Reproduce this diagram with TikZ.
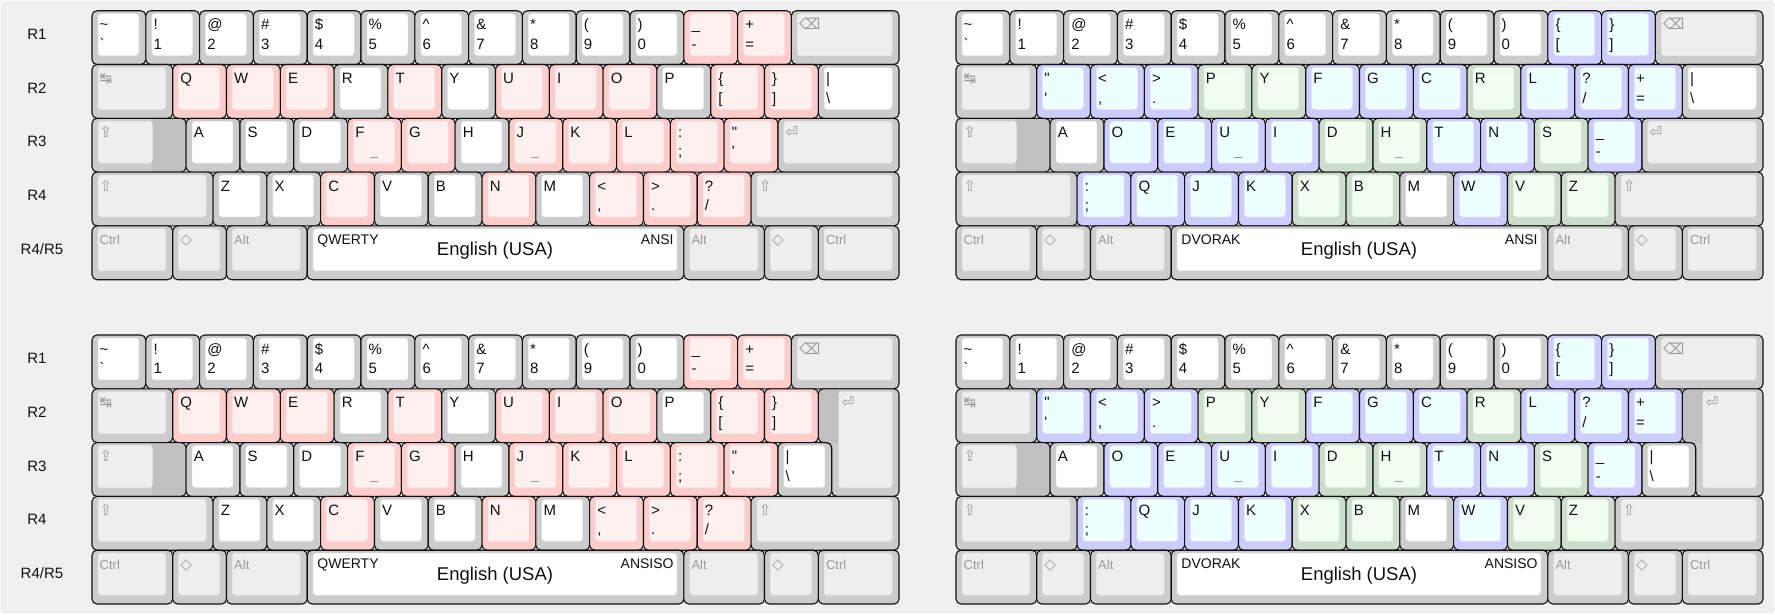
\documentclass[tikz,border=0pt]{standalone}
\usepackage{fontspec}
\newfontfamily\keyfont{Liberation Sans}
\newfontfamily\symfont{DejaVu Sans}

\definecolor{bgcol}{HTML}{F0F0F0}
\definecolor{panelline}{HTML}{DDDDDD}
\definecolor{keyline}{HTML}{111111}
\definecolor{legendtext}{HTML}{111111}
\definecolor{modtext}{HTML}{9A9A9A}
\definecolor{plainrim}{HTML}{CCCCCC}
\definecolor{plainface}{HTML}{FFFFFF}
\definecolor{modrim}{HTML}{CCCCCC}
\definecolor{modface}{HTML}{EEEEEE}
\definecolor{steprim}{HTML}{C0C0C0}
\definecolor{pinkrim}{HTML}{FFCCCC}
\definecolor{pinkface}{HTML}{FFF0F0}
\definecolor{bluerim}{HTML}{CCCCFF}
\definecolor{blueface}{HTML}{EEFFFF}
\definecolor{greenrim}{HTML}{CCDDCC}
\definecolor{greenface}{HTML}{F0FFF0}

\tikzset{
  keyrim/.style={draw=keyline, line width=1.1, rounded corners=5},
  keyface/.style={draw=black!8, line width=0.5, rounded corners=3},
  legend/.style={anchor=base west, inner sep=0, text=legendtext,
    font=\keyfont\fontsize{15}{15}\selectfont},
  rowlabel/.style={anchor=base, inner sep=0, text=legendtext,
    font=\keyfont\fontsize{15}{15}\selectfont},
  spacesmall/.style={inner sep=0, text=legendtext,
    font=\keyfont\fontsize{14}{14}\selectfont},
  spacebig/.style={inner sep=0, text=legendtext,
    font=\keyfont\fontsize{18.5}{18.5}\selectfont},
  bump/.style={draw=modtext, line width=0.8},
}

% modifier legends
\newcommand{\ml}[1]{{\color{modtext}\fontsize{13}{13}\selectfont #1}}
\newcommand{\ms}[1]{{\color{modtext}\symfont\fontsize{15}{15}\selectfont #1}}

% keyboard origin, unit and running position
\def\ku{53.8}
\newcommand{\setkb}[2]{\def\kbx{#1}\def\kby{#2}}
\newcommand{\key}[4]{%
  \pgfmathsetmacro\kxa{\kbx+\curx*\ku}%
  \pgfmathsetmacro\kxb{\kxa+#1*\ku}%
  \pgfmathsetmacro\kya{\kby+\currow*\ku}%
  \filldraw[keyrim, fill=#2rim] (\kxa,\kya) rectangle (\kxb,\kya+\ku);
  \filldraw[keyface, fill=#2face] (\kxa+6,\kya+3) rectangle (\kxb-7,\kya+\ku-9);
  \node[legend] at (\kxa+7.5,\kya+19) {#3};
  \node[legend] at (\kxa+7.5,\kya+38.5) {#4};
  \pgfmathsetmacro\kxn{\curx+#1}%
  \xdef\curx{\kxn}%
}
\newcommand{\keyrow}[3]{%
  \xdef\currow{#1}\xdef\curx{#2}%
  \foreach \kw/\kcol/\ktop/\kbot in #3 {\key{\kw}{\kcol}{\ktop}{\kbot}}%
}
\newcommand{\capskey}{%
  \pgfmathsetmacro\kya{\kby+2*\ku}%
  \begin{scope}
    \clip[rounded corners=5] (\kbx,\kya) rectangle (\kbx+1.75*\ku,\kya+\ku);
    \fill[modrim] (\kbx,\kya) rectangle (\kbx+1.75*\ku,\kya+\ku);
    \fill[steprim] (\kbx+1.25*\ku-7,\kya) rectangle (\kbx+1.75*\ku,\kya+\ku);
  \end{scope}
  \draw[keyrim] (\kbx,\kya) rectangle (\kbx+1.75*\ku,\kya+\ku);
  \filldraw[keyface, fill=modface] (\kbx+6,\kya+3) rectangle (\kbx+1.25*\ku-7,\kya+\ku-9);
  \node[legend] at (\kbx+7.5,\kya+19) {\ms{⇪}};
}
\newcommand{\isoenter}{%
  \pgfmathsetmacro\exa{\kbx+13.5*\ku}%
  \pgfmathsetmacro\exb{\kbx+13.75*\ku}%
  \pgfmathsetmacro\exr{\kbx+15*\ku}%
  \pgfmathsetmacro\eya{\kby+\ku}%
  \begin{scope}
    \clip[rounded corners=5] (\exa,\eya) -- (\exr,\eya) -- (\exr,\eya+2*\ku)
      -- (\exb,\eya+2*\ku) -- (\exb,\eya+\ku) -- (\exa,\eya+\ku) -- cycle;
    \fill[modrim] (\exa,\eya) rectangle (\exr,\eya+2*\ku);
    \fill[steprim] (\exa,\eya) rectangle (\exb+7,\eya+\ku);
  \end{scope}
  \draw[keyrim] (\exa,\eya) -- (\exr,\eya) -- (\exr,\eya+2*\ku)
    -- (\exb,\eya+2*\ku) -- (\exb,\eya+\ku) -- (\exa,\eya+\ku) -- cycle;
  \filldraw[keyface, fill=modface] (\exb+7,\eya+3) rectangle (\exr-7,\eya+2*\ku-9);
  \node[legend] at (\exb+10,\eya+19) {\ms{⏎}};
}
\newcommand{\spacetext}[2]{%
  \pgfmathsetmacro\sxa{\kbx+4*\ku}%
  \pgfmathsetmacro\sya{\kby+4*\ku}%
  \node[spacesmall, anchor=base west] (layout) at (\sxa+10,\sya+18.3) {#1};
  \node[spacesmall, anchor=base east] (standard) at (\sxa+7*\ku-10,\sya+18.3) {#2};
  \node[spacebig, anchor=base] (language) at (\sxa+3.5*\ku-0.5,\sya+30) {English (USA)};
}
\newcommand{\bumps}{%
  \draw[bump] (\kbx+5.25*\ku-4.5,\kby+2*\ku+39) -- ++(8,0);
  \draw[bump] (\kbx+8.25*\ku-4.5,\kby+2*\ku+39) -- ++(8,0);
}
\newcommand{\rowlabels}{%
  \foreach \r/\lab in {0/R1,1/R2,2/R3,3/R4}
    \node[rowlabel] at (37,\kby+\r*\ku+28.5) {\lab};
  \node[rowlabel] at (42,\kby+4*\ku+28.5) {R4/R5};
}

% rows
\def\QRone{1/plain/\textasciitilde/\textasciigrave, 1/plain/!/1, 1/plain/@/2,
  1/plain/\#/3, 1/plain/\$/4, 1/plain/\%/5, 1/plain/\textasciicircum/6,
  1/plain/\&/7, 1/plain/*/8, 1/plain/{(}/9, 1/plain/{)}/0, 1/pink/\_/-,
  1/pink/+/=, 2/mod/\ms{⌫}/{}}
\def\DRone{1/plain/\textasciitilde/\textasciigrave, 1/plain/!/1, 1/plain/@/2,
  1/plain/\#/3, 1/plain/\$/4, 1/plain/\%/5, 1/plain/\textasciicircum/6,
  1/plain/\&/7, 1/plain/*/8, 1/plain/{(}/9, 1/plain/{)}/0, 1/blue/\{/{[},
  1/blue/\}/{]}, 2/mod/\ms{⌫}/{}}
\def\QRtwoA{1.5/mod/\ms{↹}/{}, 1/pink/Q/{}, 1/pink/W/{}, 1/pink/E/{},
  1/plain/R/{}, 1/pink/T/{}, 1/plain/Y/{}, 1/pink/U/{}, 1/pink/I/{},
  1/pink/O/{}, 1/plain/P/{}, 1/pink/\{/{[}, 1/pink/\}/{]},
  1.5/plain/|/\textbackslash}
\def\QRtwoI{1.5/mod/\ms{↹}/{}, 1/pink/Q/{}, 1/pink/W/{}, 1/pink/E/{},
  1/plain/R/{}, 1/pink/T/{}, 1/plain/Y/{}, 1/pink/U/{}, 1/pink/I/{},
  1/pink/O/{}, 1/plain/P/{}, 1/pink/\{/{[}, 1/pink/\}/{]}}
\def\QRthreeA{1/plain/A/{}, 1/plain/S/{}, 1/plain/D/{}, 1/pink/F/{},
  1/pink/G/{}, 1/plain/H/{}, 1/pink/J/{}, 1/pink/K/{}, 1/pink/L/{},
  1/pink/:/;, 1/pink/"/', 2.25/mod/\ms{⏎}/{}}
\def\QRthreeI{1/plain/A/{}, 1/plain/S/{}, 1/plain/D/{}, 1/pink/F/{},
  1/pink/G/{}, 1/plain/H/{}, 1/pink/J/{}, 1/pink/K/{}, 1/pink/L/{},
  1/pink/:/;, 1/pink/"/', 1/plain/|/\textbackslash}
\def\QRfour{2.25/mod/\ms{⇧}/{}, 1/plain/Z/{}, 1/plain/X/{}, 1/pink/C/{},
  1/plain/V/{}, 1/plain/B/{}, 1/pink/N/{}, 1/plain/M/{}, 1/pink/</{,},
  1/pink/>/., 1/pink/?/{/}, 2.75/mod/\ms{⇧}/{}}
\def\DRtwoA{1.5/mod/\ms{↹}/{}, 1/blue/"/', 1/blue/</{,}, 1/blue/>/.,
  1/green/P/{}, 1/green/Y/{}, 1/blue/F/{}, 1/blue/G/{}, 1/blue/C/{},
  1/green/R/{}, 1/blue/L/{}, 1/blue/?/{/}, 1/blue/+/=,
  1.5/plain/|/\textbackslash}
\def\DRtwoI{1.5/mod/\ms{↹}/{}, 1/blue/"/', 1/blue/</{,}, 1/blue/>/.,
  1/green/P/{}, 1/green/Y/{}, 1/blue/F/{}, 1/blue/G/{}, 1/blue/C/{},
  1/green/R/{}, 1/blue/L/{}, 1/blue/?/{/}, 1/blue/+/=}
\def\DRthreeA{1/plain/A/{}, 1/blue/O/{}, 1/blue/E/{}, 1/blue/U/{},
  1/blue/I/{}, 1/green/D/{}, 1/green/H/{}, 1/blue/T/{}, 1/blue/N/{},
  1/green/S/{}, 1/blue/\_/-, 2.25/mod/\ms{⏎}/{}}
\def\DRthreeI{1/plain/A/{}, 1/blue/O/{}, 1/blue/E/{}, 1/blue/U/{},
  1/blue/I/{}, 1/green/D/{}, 1/green/H/{}, 1/blue/T/{}, 1/blue/N/{},
  1/green/S/{}, 1/blue/\_/-, 1/plain/|/\textbackslash}
\def\DRfour{2.25/mod/\ms{⇧}/{}, 1/blue/:/;, 1/blue/Q/{}, 1/blue/J/{},
  1/blue/K/{}, 1/green/X/{}, 1/green/B/{}, 1/plain/M/{}, 1/blue/W/{},
  1/green/V/{}, 1/green/Z/{}, 2.75/mod/\ms{⇧}/{}}
\def\RowFive{1.5/mod/\ml{Ctrl}/{}, 1/mod/\ms{◇}/{}, 1.5/mod/\ml{Alt}/{},
  7/plain/{}/{}, 1.5/mod/\ml{Alt}/{}, 1/mod/\ms{◇}/{}, 1.5/mod/\ml{Ctrl}/{}}

\begin{document}
\begin{tikzpicture}[x=1pt, y=-1pt]
  \useasboundingbox (0,0) rectangle (1775,614);
  \filldraw[fill=bgcol, draw=panelline, rounded corners=4] (1,1) rectangle (1774,613);

  % QWERTY, ANSI
  \setkb{92}{10.7}
  \keyrow{0}{0}{\QRone}
  \keyrow{1}{0}{\QRtwoA}
  \capskey
  \keyrow{2}{1.75}{\QRthreeA}
  \keyrow{3}{0}{\QRfour}
  \keyrow{4}{0}{\RowFive}
  \spacetext{QWERTY}{ANSI}
  \bumps
  \rowlabels

  % DVORAK, ANSI
  \setkb{956}{10.7}
  \keyrow{0}{0}{\DRone}
  \keyrow{1}{0}{\DRtwoA}
  \capskey
  \keyrow{2}{1.75}{\DRthreeA}
  \keyrow{3}{0}{\DRfour}
  \keyrow{4}{0}{\RowFive}
  \spacetext{DVORAK}{ANSI}
  \bumps

  % QWERTY, ANSISO
  \setkb{92}{335}
  \keyrow{0}{0}{\QRone}
  \keyrow{1}{0}{\QRtwoI}
  \capskey
  \keyrow{2}{1.75}{\QRthreeI}
  \isoenter
  \keyrow{3}{0}{\QRfour}
  \keyrow{4}{0}{\RowFive}
  \spacetext{QWERTY}{ANSISO}
  \bumps
  \rowlabels

  % DVORAK, ANSISO
  \setkb{956}{335}
  \keyrow{0}{0}{\DRone}
  \keyrow{1}{0}{\DRtwoI}
  \capskey
  \keyrow{2}{1.75}{\DRthreeI}
  \isoenter
  \keyrow{3}{0}{\DRfour}
  \keyrow{4}{0}{\RowFive}
  \spacetext{DVORAK}{ANSISO}
  \bumps
\end{tikzpicture}
\end{document}
